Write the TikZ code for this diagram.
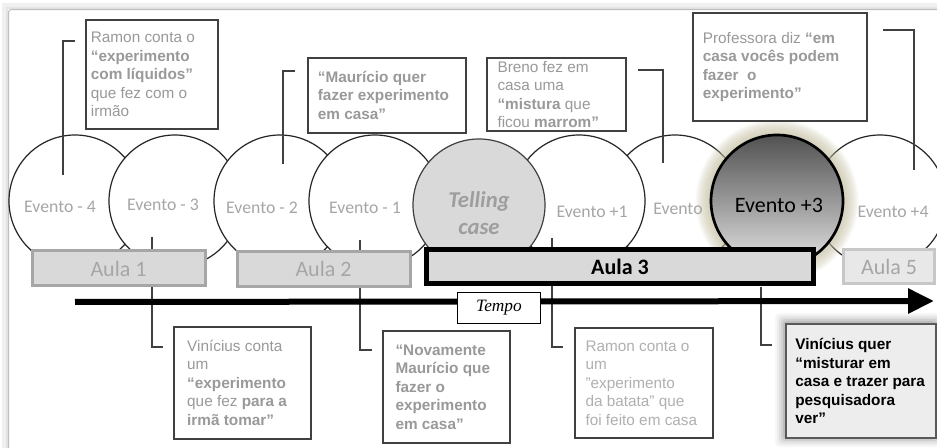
\documentclass[tikz,border=0pt]{standalone}
\usepackage{fontspec}
\setmainfont{Liberation Sans}
\newfontfamily\calfont{Carlito}
\newfontfamily\tempofont{Liberation Serif}
\usetikzlibrary{arrows.meta}
\definecolor{evgray}{HTML}{A6A6A6}
\definecolor{boxtxt}{HTML}{999999}
\definecolor{lighttxt}{HTML}{B0B0B0}
\definecolor{aulafill}{HTML}{D9D9D9}
\definecolor{aulaline}{HTML}{A6A6A6}
\definecolor{connc}{HTML}{404040}
\definecolor{glowc}{HTML}{C4BF9E}
\begin{document}
\begin{tikzpicture}[x=0.75pt,y=-0.75pt,
 evc/.style={circle, draw=black!85, line width=0.9pt, fill=white, minimum size=99pt, inner sep=0pt},
 evlbl/.style={font=\calfont\fontsize{13.3}{15}\selectfont, text=evgray, inner sep=0pt},
 tbox/.style={draw=connc, line width=1.3pt, fill=white, anchor=north west, align=flush left, inner ysep=1pt, font=\fontsize{11.5}{13.9}\selectfont, text=boxtxt},
 aula/.style={draw=aulaline, line width=2.25pt, fill=aulafill, minimum width=129.75pt, minimum height=26.25pt, inner sep=0pt, font=\calfont\fontsize{16.5}{18}\selectfont, text=evgray},
 connector/.style={draw=connc, line width=1.2pt},
]
\useasboundingbox (0,0) rectangle (937,448);
\fill[white] (0,0) rectangle (937,448);
% outer frame
\draw[black!6, line width=4pt] (5,452) -- (5,6) -- (942,6);
\draw[black!10, line width=2pt] (7,452) -- (7,8) -- (942,8);
\draw[black!25, line width=0.8pt, rounded corners=2pt] (8.5,452) -- (8.5,9.5) -- (942,9.5);

% circles
\node[evc] (em4) at (75,201) {};
\node[evc] (em3) at (175,201) {};
\node[evc] (em2) at (280,201) {};
\node[evc] (em1) at (375,201) {};
\node[evc] (ep2) at (675,201) {};
\node[evc] (ep4) at (880,201) {};
\node[evc] (ep1) at (579,201) {};
\node[evc, fill=aulafill, draw=black!75] (tc) at (479,205) {};
\coordinate (e3c) at (777,201);
\foreach \r in {61,60,...,50} {\fill[glowc, opacity=0.09] (e3c) circle (\r pt);}
\node[circle, minimum size=99pt, inner sep=0pt, draw=black, line width=2pt, top color=black!68, bottom color=black!10, middle color=black!40] (ep3) at (e3c) {};

% circle labels
\node[evlbl] (lm4) at (60,207) {Evento - 4};
\node[evlbl] (lm3) at (163,205) {Evento - 3};
\node[evlbl] (lm2) at (262,208) {Evento - 2};
\node[evlbl] (lm1) at (365,208) {Evento - 1};
\node[evlbl] (lp1) at (592,212) {Evento +1};
\node[evlbl] (lp2) at (678,209) {Evento};
\node[evlbl] (lp4) at (893,212) {Evento +4};
\node[inner sep=0pt, font=\calfont\fontsize{16.5}{18}\selectfont, text=black] (lp3) at (779,205) {Evento +3};
\node[inner sep=0pt, align=center, font=\calfont\bfseries\itshape\fontsize{17}{20.25}\selectfont, text=black!38] (ltc) at (479,213) {Telling\\case};

% top connectors
\coordinate (c1a) at (75,41);  \coordinate (c1b) at (63,175);
\coordinate (c2a) at (295,71); \coordinate (c2b) at (283,164);
\coordinate (c3a) at (638,70); \coordinate (c3b) at (663,163);
\coordinate (c4a) at (883,30); \coordinate (c4b) at (914,170);
\draw[connector] (c1a) -| (c1b);
\draw[connector] (c2a) -| (c2b);
\draw[connector] (c3a) -| (c3b);
\draw[connector] (c4a) -| (c4b);

% bottom connectors
\coordinate (c5a) at (152,237); \coordinate (c5b) at (163,347);
\coordinate (c6a) at (360,240); \coordinate (c6b) at (372,350);
\coordinate (c7a) at (552,238); \coordinate (c7b) at (563,347);
\coordinate (c8a) at (761,287); \coordinate (c8b) at (772,345);
\draw[connector] (c5a) |- (c5b);
\draw[connector] (c6a) |- (c6b);
\draw[connector] (c7a) |- (c7b);
\draw[connector] (c8a) |- (c8b);

% aula boxes
\node[aula] (a1) at (118.5,268.5) {Aula 1};
\node[aula] (a2) at (323.5,269) {Aula 2};
\node[aula, draw=black, line width=3.75pt, minimum width=290pt, minimum height=25.5pt, text=black, font=\calfont\bfseries\fontsize{16.5}{18}\selectfont] (a3) at (620,266.5) {Aula 3};
\node[aula, draw=black!22, fill=black!9, minimum width=68pt, minimum height=25.5pt] (a5) at (889,266.5) {Aula 5};

% time arrow
\coordinate (tstart) at (75,302);
\coordinate (tend) at (934,301);
\draw[line width=4.5pt, -{Triangle[length=19.5pt,width=18pt]}] (tstart) -- (tend);
\node[draw=black, line width=1pt, fill=white, minimum width=62pt, minimum height=23.5pt, inner sep=0pt, font=\tempofont\itshape\fontsize{13}{14}\selectfont] (tempo) at (499,308) {Tempo};

% text boxes top
\node[tbox, inner xsep=3.75pt, text width=91.5pt, minimum height=81.75pt] (b1) at (85,19)
 {Ramon conta o\\\textbf{“experimento}\\\textbf{com líquidos”}\\que fez com o\\irmão};
\node[tbox, inner xsep=7.5pt, text width=103.5pt, minimum height=56.25pt] (b2) at (307,57)
 {\textbf{“Maurício quer}\\\textbf{fazer experimento}\\\textbf{em casa”}};
\node[tbox, inner xsep=8pt, text width=88.25pt, minimum height=54.75pt, inner ysep=0pt] (b3) at (486,57)
 {Breno fez em\\casa uma\\\textbf{“mistura} que\\ficou \textbf{marrom”}};
\node[tbox, inner xsep=7.5pt, text width=115.5pt, minimum height=81pt] (b4) at (692,12)
 {Professora diz \textbf{“em}\\\textbf{casa vocês podem}\\\textbf{fazer\ \ o}\\\textbf{experimento”}};

% text boxes bottom
\node[tbox, inner xsep=10pt, text width=82.75pt, minimum height=84pt] (b5) at (173,326)
 {Vinícius conta\\um\\\textbf{“experimento}\\que fez \textbf{para a}\\\textbf{irmã tomar”}};
\node[tbox, inner xsep=9.5pt, text width=76.25pt, minimum height=84pt] (b6) at (382,330)
 {\textbf{“Novamente}\\\textbf{Maurício que}\\\textbf{fazer o}\\\textbf{experimento}\\\textbf{em casa”}};
\node[tbox, inner xsep=8pt, text width=87.5pt, minimum height=82.5pt, text=lighttxt] (b7) at (574,327)
 {Ramon conta o\\um\\\symbol{"22}experimento\\da batata\symbol{"22} que\\foi feito em casa};
\foreach \d/\o in {10/0.03,8/0.04,6/0.05,4/0.07,2/0.09} {\fill[black, opacity=\o, rounded corners=3pt] (785-\d,323-\d) rectangle (935+\d,437+\d);}
\node[tbox, draw=black!65, line width=1.5pt, fill=black!7, text=black, inner xsep=7pt, text width=98.5pt, minimum height=85.5pt] (b8) at (785,323)
 {\bfseries Vinícius quer\\“misturar em\\casa e trazer para\\pesquisadora\\ver”};
\end{tikzpicture}
\end{document}
